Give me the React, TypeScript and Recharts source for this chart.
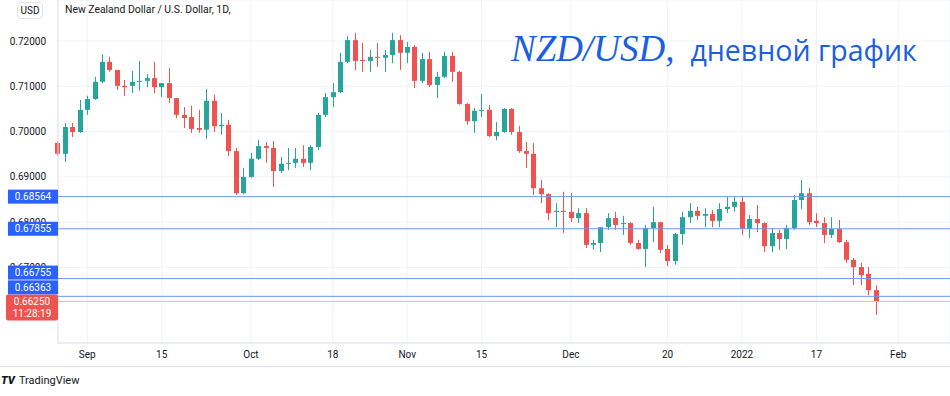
import React from 'react';
import {
  ComposedChart,
  Bar,
  XAxis,
  YAxis,
  CartesianGrid,
  ReferenceLine,
} from 'recharts';

// trading days shown on the time scale (last slots are empty future days)
const aug = [26, 27, 30, 31];
const sep = [1, 2, 3, 6, 7, 8, 9, 10, 13, 14, 15, 16, 17, 20, 21, 22, 23, 24, 27, 28, 29, 30];
const oct = [1, 4, 5, 6, 7, 8, 11, 12, 13, 14, 15, 18, 19, 20, 21, 22, 25, 26, 27, 28, 29];
const nov = [1, 2, 3, 4, 5, 8, 9, 10, 11, 12, 15, 16, 17, 18, 19, 22, 23, 24, 25, 26, 29, 30];
const dec = [1, 2, 3, 6, 7, 8, 9, 10, 13, 14, 15, 16, 17, 20, 21, 22, 23, 24, 27, 28, 29, 30, 31];
const jan = [3, 4, 5, 6, 7, 10, 11, 12, 13, 14, 17, 18, 19, 20, 21, 24, 25, 26, 27, 28, 31];
const feb = [1, 2, 3, 4, 7, 8, 9];

const opens = [
  0.6975, 0.6951, 0.7010, 0.6999, 0.7048, 0.7072, 0.7110, 0.7154, 0.7136, 0.7101,
  0.7101, 0.7110, 0.7112, 0.7118, 0.7098, 0.7107, 0.7074, 0.7037, 0.7032, 0.7008,
  0.7004, 0.7068, 0.7012, 0.7015, 0.6957, 0.6864, 0.6900, 0.6940, 0.6968, 0.6964,
  0.6913, 0.6929, 0.6931, 0.6940, 0.6931, 0.6966, 0.7037, 0.7076, 0.7087, 0.7154,
  0.7202, 0.7158, 0.7156, 0.7165, 0.7163, 0.7169, 0.7202, 0.7174, 0.7187, 0.7112,
  0.7160, 0.7103, 0.7121, 0.7167, 0.7132, 0.7061, 0.7023, 0.7046, 0.7048, 0.6990,
  0.6999, 0.7050, 0.6999, 0.6957, 0.6951, 0.6875, 0.6862, 0.6823, 0.6825, 0.6823,
  0.6809, 0.6820, 0.6750, 0.6754, 0.6789, 0.6809, 0.6796, 0.6798, 0.6754, 0.6741,
  0.6787, 0.6800, 0.6741, 0.6714, 0.6774, 0.6811, 0.6825, 0.6814, 0.6818, 0.6803,
  0.6829, 0.6834, 0.6845, 0.6785, 0.6807, 0.6798, 0.6747, 0.6776, 0.6763, 0.6787,
  0.6849, 0.6864, 0.6803, 0.6798, 0.6772, 0.6785, 0.6756, 0.6717, 0.6701, 0.6686,
  0.6650,
];
const highs = [
  0.6979, 0.7019, 0.7019, 0.7070, 0.7079, 0.7121, 0.7171, 0.7165, 0.7136, 0.7114,
  0.7134, 0.7156, 0.7127, 0.7154, 0.7107, 0.7140, 0.7074, 0.7054, 0.7057, 0.7048,
  0.7094, 0.7081, 0.7041, 0.7026, 0.6964, 0.6920, 0.6953, 0.6981, 0.6977, 0.6979,
  0.6944, 0.6964, 0.6964, 0.6970, 0.6970, 0.7041, 0.7085, 0.7107, 0.7174, 0.7211,
  0.7218, 0.7196, 0.7180, 0.7196, 0.7180, 0.7218, 0.7213, 0.7198, 0.7191, 0.7174,
  0.7176, 0.7132, 0.7176, 0.7176, 0.7134, 0.7063, 0.7052, 0.7083, 0.7059, 0.7021,
  0.7052, 0.7052, 0.7012, 0.6977, 0.6975, 0.6893, 0.6864, 0.6842, 0.6867, 0.6864,
  0.6831, 0.6831, 0.6761, 0.6789, 0.6820, 0.6823, 0.6814, 0.6800, 0.6761, 0.6794,
  0.6834, 0.6800, 0.6750, 0.6776, 0.6823, 0.6842, 0.6834, 0.6831, 0.6827, 0.6842,
  0.6856, 0.6856, 0.6858, 0.6816, 0.6838, 0.6800, 0.6787, 0.6783, 0.6794, 0.6860,
  0.6893, 0.6875, 0.6820, 0.6811, 0.6811, 0.6805, 0.6761, 0.6721, 0.6710, 0.6701,
  0.6661,
];
const lows = [
  0.6946, 0.6933, 0.6988, 0.6997, 0.7037, 0.7070, 0.7107, 0.7132, 0.7092, 0.7079,
  0.7085, 0.7090, 0.7098, 0.7085, 0.7076, 0.7063, 0.7030, 0.7008, 0.6997, 0.6997,
  0.6984, 0.6999, 0.6993, 0.6946, 0.6860, 0.6862, 0.6898, 0.6937, 0.6931, 0.6878,
  0.6909, 0.6915, 0.6920, 0.6922, 0.6915, 0.6959, 0.7032, 0.7054, 0.7085, 0.7151,
  0.7136, 0.7132, 0.7132, 0.7143, 0.7132, 0.7151, 0.7136, 0.7151, 0.7096, 0.7107,
  0.7098, 0.7074, 0.7118, 0.7110, 0.7059, 0.7015, 0.6997, 0.7032, 0.6988, 0.6981,
  0.6997, 0.6993, 0.6953, 0.6920, 0.6860, 0.6842, 0.6805, 0.6789, 0.6776, 0.6800,
  0.6798, 0.6743, 0.6739, 0.6734, 0.6783, 0.6783, 0.6772, 0.6750, 0.6739, 0.6701,
  0.6756, 0.6732, 0.6703, 0.6706, 0.6750, 0.6798, 0.6805, 0.6789, 0.6789, 0.6789,
  0.6820, 0.6823, 0.6772, 0.6765, 0.6778, 0.6734, 0.6734, 0.6739, 0.6741, 0.6783,
  0.6829, 0.6794, 0.6789, 0.6754, 0.6765, 0.6754, 0.6710, 0.6661, 0.6661, 0.6639,
  0.6595,
];
const closes = [
  0.6951, 0.7010, 0.6999, 0.7048, 0.7072, 0.7110, 0.7154, 0.7136, 0.7101, 0.7098,
  0.7110, 0.7112, 0.7118, 0.7098, 0.7107, 0.7074, 0.7037, 0.7030, 0.7006, 0.7004,
  0.7068, 0.7012, 0.7015, 0.6957, 0.6864, 0.6900, 0.6940, 0.6968, 0.6964, 0.6913,
  0.6929, 0.6931, 0.6940, 0.6931, 0.6966, 0.7037, 0.7076, 0.7087, 0.7154, 0.7202,
  0.7156, 0.7156, 0.7165, 0.7163, 0.7169, 0.7202, 0.7174, 0.7187, 0.7112, 0.7160,
  0.7103, 0.7121, 0.7167, 0.7132, 0.7061, 0.7023, 0.7046, 0.7048, 0.6990, 0.6999,
  0.7050, 0.6999, 0.6957, 0.6951, 0.6875, 0.6862, 0.6820, 0.6825, 0.6823, 0.6809,
  0.6820, 0.6750, 0.6754, 0.6789, 0.6809, 0.6794, 0.6798, 0.6754, 0.6741, 0.6787,
  0.6800, 0.6739, 0.6714, 0.6774, 0.6811, 0.6825, 0.6814, 0.6818, 0.6803, 0.6829,
  0.6834, 0.6845, 0.6785, 0.6807, 0.6798, 0.6747, 0.6776, 0.6763, 0.6787, 0.6849,
  0.6864, 0.6800, 0.6798, 0.6772, 0.6785, 0.6756, 0.6717, 0.6701, 0.6683, 0.6650,
  0.6625,
];

// horizontal levels drawn on the chart
const levels = [0.68564, 0.67855, 0.66755, 0.66363];
const lastPrice = 0.6625;
const countdown = '11:28:19';

const priceTicks = [0.67, 0.68, 0.69, 0.7, 0.71, 0.72];
const timeTicks: Record<string, string> = {
  '2021-09-01': 'Sep',
  '2021-09-15': '15',
  '2021-10-01': 'Oct',
  '2021-10-18': '18',
  '2021-11-01': 'Nov',
  '2021-11-15': '15',
  '2021-12-01': 'Dec',
  '2021-12-20': '20',
  '2022-01-03': '2022',
  '2022-01-17': '17',
  '2022-02-01': 'Feb',
};

const UP = '#26a69a';
const DOWN = '#ef5350';
const LEVEL = '#6f95f2';
const TAG = '#2962ff';
const FONT = 'Roboto, "Noto Sans", sans-serif';
const W = 950;
const H = 366;
const DOMAIN: [number, number] = [0.65333, 0.72905];
const MARGIN = { top: 0, right: 0, bottom: 0, left: 0 };
const X_PAD = { left: -4.2, right: 3.4 };

const pad = (n: number) => (n < 10 ? '0' + n : '' + n);
const months: [string, number[]][] = [
  ['2021-08', aug],
  ['2021-09', sep],
  ['2021-10', oct],
  ['2021-11', nov],
  ['2021-12', dec],
  ['2022-01', jan],
  ['2022-02', feb],
];
const dates = months.flatMap(([m, days]) => days.map((d) => `${m}-${pad(d)}`));

const chartData = dates.map((date, i) => {
  const has = i < opens.length;
  return {
    date,
    open: has ? opens[i] : null,
    high: has ? highs[i] : null,
    low: has ? lows[i] : null,
    close: has ? closes[i] : null,
    range: has ? [lows[i], highs[i]] : null,
  };
});

const Candle = (props: any) => {
  const { x, y, width, height, payload } = props;
  if (!payload || payload.open == null || y == null) return null;
  const { open, close, high, low } = payload;
  const top = Math.min(y, y + height);
  const h = Math.abs(height);
  const per = high - low > 0 ? h / (high - low) : 0;
  const yOpen = top + (high - open) * per;
  const yClose = top + (high - close) * per;
  const color = close >= open ? UP : DOWN;
  const cx = Math.round(x + width / 2) + 0.5;
  const bodyTop = Math.min(yOpen, yClose);
  const bodyH = Math.max(1, Math.abs(yClose - yOpen));
  return (
    <g>
      <line x1={cx} x2={cx} y1={top} y2={top + h} stroke={color} strokeWidth={1} />
      <rect x={cx - 2.5} y={bodyTop} width={5} height={bodyH} fill={color} />
    </g>
  );
};

const LevelTag = (props: any) => {
  const { viewBox, value, shift = 0 } = props;
  if (!viewBox) return null;
  const y = viewBox.y + shift;
  return (
    <g>
      <rect x={viewBox.x - 50} y={y - 7} width={50} height={14} fill={TAG} />
      <text x={viewBox.x - 25} y={y} dy="0.35em" textAnchor="middle" fill="#fff" fontSize={10} fontFamily={FONT}>
        {value.toFixed(5)}
      </text>
    </g>
  );
};

const LastTag = (props: any) => {
  const { viewBox } = props;
  if (!viewBox) return null;
  const y = viewBox.y;
  return (
    <g>
      <rect x={viewBox.x - 52} y={y - 7} width={52} height={26} rx={2} fill={DOWN} />
      <text x={viewBox.x - 26} y={y} dy="0.35em" textAnchor="middle" fill="#fff" fontSize={10} fontFamily={FONT}>
        {lastPrice.toFixed(5)}
      </text>
      <text x={viewBox.x - 26} y={y + 12} dy="0.35em" textAnchor="middle" fill="#fff" fontSize={10} fontFamily={FONT}>
        {countdown}
      </text>
    </g>
  );
};

// tags of close levels are pushed up so they do not overlap
const tagShift = [0, 0, -6, -9];

export default function App() {
  return (
    <div style={{ position: 'relative', width: W, height: 396, background: '#fff', fontFamily: FONT }}>
      <style>{'body{margin:0}'}</style>
      <ComposedChart width={W} height={H} data={chartData} margin={MARGIN} barCategoryGap={0}>
        <CartesianGrid stroke="#f0f3fa" />
        <XAxis
          dataKey="date"
          ticks={Object.keys(timeTicks)}
          tickFormatter={(d: string) => timeTicks[d] ?? ''}
          interval={0}
          padding={X_PAD}
          allowDataOverflow
          height={23}
          tickLine={false}
          axisLine={{ stroke: '#e0e3eb' }}
          tick={{ fontSize: 10, fill: '#131722', fontFamily: FONT }}
        />
        <YAxis
          orientation="left"
          width={58}
          domain={DOMAIN}
          allowDataOverflow
          ticks={priceTicks}
          tickFormatter={(v: number) => v.toFixed(5)}
          tickLine={false}
          tickMargin={6}
          axisLine={{ stroke: '#e0e3eb' }}
          tick={{ fontSize: 10, fill: '#131722', fontFamily: FONT }}
        />
        <Bar dataKey="range" shape={<Candle />} isAnimationActive={false} />
      </ComposedChart>

      {/* drawing layer: levels and price tags sit above the price scale */}
      <div style={{ position: 'absolute', left: 0, top: 0, pointerEvents: 'none' }}>
        <ComposedChart width={W} height={H} data={chartData} margin={MARGIN}>
          <XAxis dataKey="date" padding={X_PAD} height={23} tick={false} tickLine={false} axisLine={false} />
          <YAxis width={58} domain={DOMAIN} allowDataOverflow tick={false} tickLine={false} axisLine={false} />
          <ReferenceLine y={lastPrice} stroke="#f7b3b7" strokeWidth={1} label={<LastTag />} />
          {levels.map((lv, i) => (
            <ReferenceLine
              key={lv}
              y={lv}
              stroke={LEVEL}
              strokeWidth={1}
              label={<LevelTag value={lv} shift={tagShift[i]} />}
            />
          ))}
        </ComposedChart>
      </div>

      <div
        style={{
          position: 'absolute', left: 17, top: 2, width: 24, height: 15, border: '1px solid #e0e3eb',
          borderRadius: 4, fontSize: 10, lineHeight: '15px', textAlign: 'center', color: '#131722', background: '#fff',
        }}
      >
        USD
      </div>
      <div style={{ position: 'absolute', left: 65, top: 3, fontSize: 10.4, color: '#131722', whiteSpace: 'nowrap' }}>
        New Zealand Dollar / U.S. Dollar, 1D,
      </div>
      <div style={{ position: 'absolute', left: 511, top: 27, color: '#1a5fe0', whiteSpace: 'nowrap' }}>
        <span style={{ fontFamily: '"Liberation Serif", serif', fontStyle: 'italic', fontSize: 37 }}>NZD/USD,</span>
        <span style={{ fontFamily: '"Open Sans", sans-serif', fontSize: 28.5, marginLeft: 16 }}>дневной график</span>
      </div>
      <div style={{ position: 'absolute', left: 0, top: 366, width: W, borderTop: '1px solid #e0e3eb' }} />
      <div style={{ position: 'absolute', left: 1, top: 374, fontSize: 11, color: '#131722', whiteSpace: 'nowrap' }}>
        <span style={{ fontWeight: 900, fontStyle: 'italic', marginRight: 4 }}>TV</span>
        TradingView
      </div>
    </div>
  );
}
